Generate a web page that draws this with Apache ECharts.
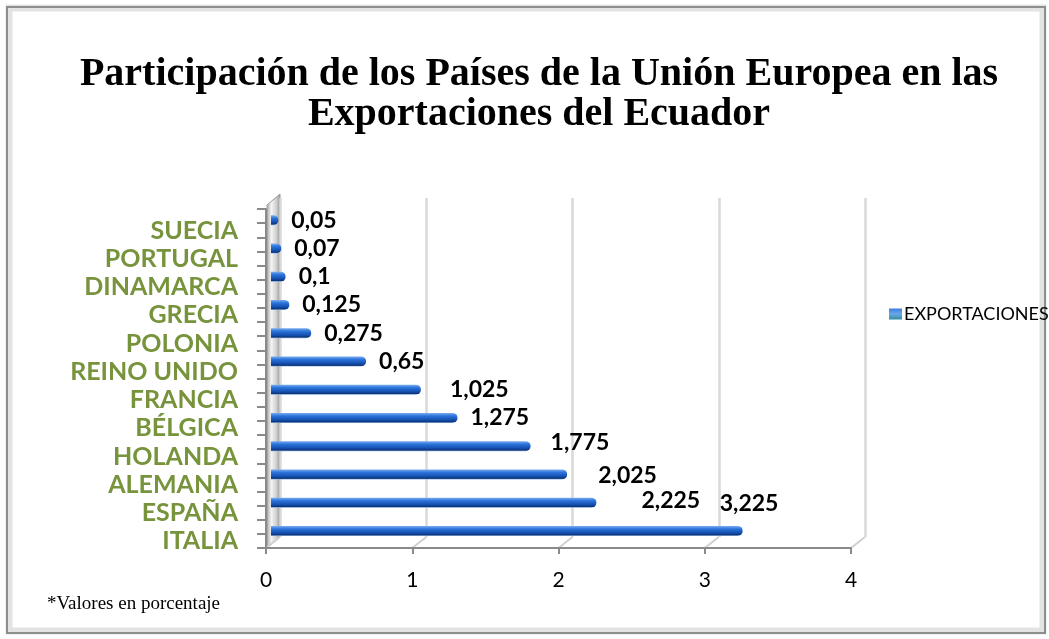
<!DOCTYPE html>
<html>
<head>
<meta charset="utf-8">
<script src="https://cdn.jsdelivr.net/npm/echarts@6/dist/echarts.min.js"></script>
<style>
  html, body { margin: 0; padding: 0; background: #fff; }
  #chart { width: 1049px; height: 639px; }
</style>
</head>
<body>
<div id="chart"></div>
<script>
// datos: de abajo (ITALIA) hacia arriba (SUECIA)
const categories = ['ITALIA', 'ESPAÑA', 'ALEMANIA', 'HOLANDA', 'BÉLGICA', 'FRANCIA',
  'REINO UNIDO', 'POLONIA', 'GRECIA', 'DINAMARCA', 'PORTUGAL', 'SUECIA'];
const exportaciones = [3.225, 2.225, 2.025, 1.775, 1.275, 1.025, 0.65, 0.275, 0.125, 0.1, 0.07, 0.05];
const xTicks = [0, 1, 2, 3, 4];
const seriesName = 'EXPORTACIONES';
const titleText = 'Participación de los Países de la Unión Europea en las\nExportaciones del Ecuador';
const footnote = '*Valores en porcentaje';

// layout del "3D" (frente / fondo)
const FRONT = { left: 266, top: 209, width: 585, height: 339 };
const DEPTH = { x: 14, y: -11 };
const BARS = { left: FRONT.left + 5, top: FRONT.top - 3, width: FRONT.width, height: FRONT.height };

// ajustes manuales de etiquetas (como en el original)
const labelNudge = { 1: [32, -2], 2: [18, 1], 3: [7, -4], 5: [16, 0], 0: [-36, -27] };

const chartDom = document.getElementById('chart');
const myChart = echarts.init(chartDom);

const fmt = v => String(v).replace('.', ',');

const barData = exportaciones.map((v, i) => {
  const item = { value: v };
  if (labelNudge[i]) item.label = { offset: labelNudge[i] };
  return item;
});

const option = {
  backgroundColor: '#fff',
  animation: false,
  title: {
    text: titleText,
    left: 534,
    textAlign: 'center',
    top: 50,
    textStyle: {
      fontFamily: 'Liberation Serif',
      fontWeight: 'bold',
      fontSize: 40,
      lineHeight: 40,
      color: '#000',
    },
  },
  legend: {
    data: [seriesName],
    left: 884,
    top: 300,
    itemWidth: 13,
    itemHeight: 11,
    icon: 'rect',
    textStyle: { fontFamily: 'Lato', fontSize: 18, color: '#000', padding: [0, 0, 0, -3] },
  },
  grid: [
    { left: FRONT.left, top: FRONT.top, width: FRONT.width, height: FRONT.height },
    { left: FRONT.left + DEPTH.x, top: FRONT.top + DEPTH.y, width: FRONT.width, height: FRONT.height },
    BARS,
  ],
  xAxis: [
    {
      gridIndex: 0,
      type: 'value',
      min: 0,
      max: 4,
      interval: 1,
      axisLine: { show: true, lineStyle: { color: '#8a8a8a', width: 2 } },
      axisTick: { show: true, length: 6, lineStyle: { color: '#8a8a8a', width: 2 } },
      splitLine: { show: false },
      axisLabel: {
        margin: 22,
        fontFamily: 'Lato',
        fontSize: 21,
        color: '#000',
        formatter: v => (xTicks.includes(v) ? String(v) : ''),
      },
    },
    {
      gridIndex: 1,
      type: 'value',
      min: 0,
      max: 4,
      interval: 1,
      axisLine: { show: false },
      axisTick: { show: false },
      axisLabel: { show: false },
      splitLine: { show: true, lineStyle: { color: '#d9d9d9', width: 2.5 } },
    },
    {
      gridIndex: 2,
      type: 'value',
      min: 0,
      max: 4,
      show: false,
    },
  ],
  yAxis: [
    {
      gridIndex: 0,
      type: 'category',
      position: 'left',
      data: categories,
      axisLine: { show: false },
      axisTick: { show: false },
      axisLabel: {
        interval: 0,
        margin: 28,
        fontFamily: 'Lato',
        fontWeight: 'bold',
        fontSize: 25,
        color: '#77933c',
        verticalAlign: 'top',
        lineHeight: 15,
      },
    },
    {
      gridIndex: 0,
      type: 'value',
      position: 'left',
      offset: 0,
      min: 0,
      max: categories.length * 2,
      interval: 1,
      axisLine: { show: true, lineStyle: { color: '#8a8a8a', width: 2 } },
      axisTick: { show: true, length: 9, lineStyle: { color: '#8a8a8a', width: 2 } },
      axisLabel: { show: false },
      splitLine: { show: false },
    },
    {
      gridIndex: 1,
      type: 'category',
      data: categories,
      show: false,
    },
    {
      gridIndex: 2,
      type: 'category',
      data: categories,
      show: false,
    },
  ],
  series: [
    {
      name: seriesName,
      type: 'bar',
      xAxisIndex: 2,
      yAxisIndex: 3,
      data: barData,
      barWidth: 10,
      itemStyle: {
        borderRadius: [0, 5, 5, 0],
        color: new echarts.graphic.LinearGradient(0, 0, 0, 1, [
          { offset: 0, color: '#7fb0f0' },
          { offset: 0.3, color: '#2c74dc' },
          { offset: 0.7, color: '#1550b0' },
          { offset: 0.9, color: '#0c3478' },
          { offset: 1, color: '#8fb4e0' },
        ]),
      },
      label: {
        show: true,
        position: 'right',
        distance: 13,
        fontFamily: 'Lato',
        fontWeight: 'bold',
        fontSize: 23,
        color: '#000',
        formatter: p => fmt(p.value),
      },
    },
  ],
};

myChart.setOption(option);

// pared izquierda, suelo y marco (decoración)
const x0 = myChart.convertToPixel({ xAxisIndex: 0 }, 0);
const yBottom = FRONT.top + FRONT.height;
const graphics = [];

graphics.push({
  type: 'polygon',
  z: -1,
  shape: {
    points: [
      [x0 + 1, FRONT.top - 4],
      [x0 + DEPTH.x, FRONT.top - 4 + DEPTH.y],
      [x0 + DEPTH.x, yBottom + DEPTH.y],
      [x0 + 1, yBottom],
    ],
  },
  style: {
    fill: new echarts.graphic.LinearGradient(0, 0, 1, 0, [
      { offset: 0, color: '#a6a6a6' },
      { offset: 0.35, color: '#f4f4f4' },
      { offset: 0.7, color: '#d0d0d0' },
      { offset: 1, color: '#8f8f8f' },
    ]),
    stroke: '#9a9a9a',
    lineWidth: 1,
  },
});

xTicks.forEach(t => {
  const x = myChart.convertToPixel({ xAxisIndex: 0 }, t);
  graphics.push({
    type: 'line',
    z: -1,
    shape: { x1: x, y1: yBottom, x2: x + DEPTH.x, y2: yBottom + DEPTH.y },
    style: { stroke: '#d0d0d0', lineWidth: 2 },
  });
});

graphics.push({
  type: 'text',
  left: 47,
  top: 595,
  style: { text: footnote, font: '19px "Liberation Serif"', fill: '#000' },
});

graphics.push({
  type: 'rect',
  z: -2,
  shape: { x: 9, y: 8, width: 1034, height: 623 },
  style: { fill: null, stroke: '#e3e3e3', lineWidth: 7 },
});
graphics.push({
  type: 'rect',
  z: -2,
  shape: { x: 7, y: 7, width: 1038, height: 626 },
  style: { fill: null, stroke: '#8e8e8e', lineWidth: 2 },
});

// icono de la leyenda con degradado
myChart.setOption({
  graphic: graphics,
  legend: {
    itemStyle: {
      color: new echarts.graphic.LinearGradient(0, 0, 0, 1, [
        { offset: 0, color: '#3c7ee0' },
        { offset: 0.5, color: '#6aa7e8' },
        { offset: 1, color: '#2f8f9a' },
      ]),
    },
  },
});
</script>
</body>
</html>
